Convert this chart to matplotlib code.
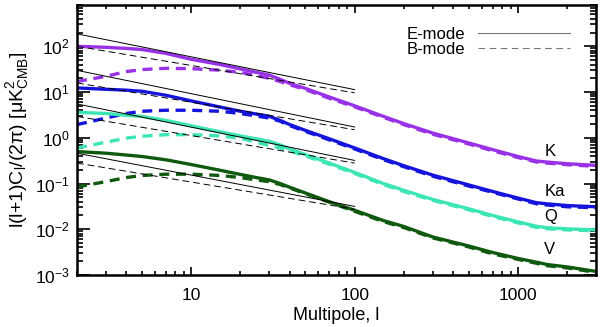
import matplotlib
matplotlib.use("Agg")
import matplotlib.pyplot as plt
from matplotlib.lines import Line2D

plt.rcParams['font.family'] = ['Liberation Sans', 'DejaVu Sans']
plt.rcParams['mathtext.fontset'] = 'custom'
plt.rcParams['mathtext.rm'] = 'Liberation Sans'
plt.rcParams['mathtext.it'] = 'Liberation Sans'
plt.rcParams['mathtext.bf'] = 'Liberation Sans:bold'

# Multipoles
ell = [2, 3, 4, 5, 7, 10, 15, 20, 25, 30, 35, 40, 50, 70, 100, 150, 200, 300, 500,
       700, 1000, 1300, 1500, 2000, 3000]

# E-mode spectra
K_E = [100, 95, 90, 85, 70, 52, 40, 32, 27, 23.5, 19, 15.5, 12, 7.8, 5.0, 2.94, 2.04,
       1.27, 0.77, 0.55, 0.39, 0.31, 0.295, 0.271, 0.249]
Ka_E = [12.3, 11.5, 11.0, 10.4, 8.5, 6.4, 4.7, 3.8, 3.3, 2.95, 2.4, 1.95, 1.45, 0.95,
        0.6, 0.35, 0.245, 0.153, 0.093, 0.067, 0.048, 0.038, 0.036, 0.033, 0.031]
Q_E = [3.6, 3.4, 3.1, 2.94, 2.4, 1.83, 1.35, 1.1, 0.95, 0.84, 0.7, 0.57, 0.43, 0.28,
       0.175, 0.1, 0.071, 0.045, 0.028, 0.02, 0.0145, 0.0116, 0.0108, 0.0102, 0.0097]
V_E = [0.50, 0.46, 0.42, 0.39, 0.33, 0.26, 0.195, 0.158, 0.135, 0.12, 0.1, 0.083,
       0.062, 0.04, 0.026, 0.0155, 0.0115, 0.0068, 0.0043, 0.0031, 0.0023, 0.0019,
       0.0017, 0.0015, 0.0012]

# B-mode spectra
K_B = [17, 22, 28, 31, 33, 32.5, 30, 27, 23, 20, 17, 14.5, 11.3, 7.3, 4.75, 2.8, 1.94,
       1.2, 0.73, 0.52, 0.37, 0.295, 0.28, 0.258, 0.237]
Ka_B = [1.94, 2.7, 3.4, 3.8, 4.0, 4.0, 3.8, 3.4, 3.0, 2.7, 2.3, 1.85, 1.38, 0.9, 0.57,
        0.333, 0.233, 0.145, 0.088, 0.064, 0.046, 0.036, 0.034, 0.031, 0.0295]
Q_B = [0.6, 0.8, 0.98, 1.08, 1.17, 1.17, 1.1, 0.98, 0.8, 0.68, 0.6, 0.52, 0.4, 0.265,
       0.166, 0.095, 0.067, 0.043, 0.0266, 0.019, 0.0138, 0.011, 0.0103, 0.0097, 0.0092]
V_B = [0.084, 0.11, 0.135, 0.15, 0.16, 0.16, 0.15, 0.135, 0.12, 0.11, 0.095, 0.08,
       0.06, 0.039, 0.0247, 0.0147, 0.0109, 0.0065, 0.0041, 0.0029, 0.0022, 0.0018,
       0.0016, 0.00143, 0.00114]

# Power-law fits (end points)
fit_ell = [2, 100]
K_Efit = [187, 11.3]
K_Bfit = [100, 9.6]
Ka_Efit = [29.8, 1.72]
Ka_Bfit = [15.8, 1.5]
Q_Efit = [5.5, 0.32]
Q_Bfit = [2.94, 0.28]
V_Efit = [0.46, 0.0316]
V_Bfit = [0.28, 0.0275]

bands = ['K', 'Ka', 'Q', 'V']
colors = ['#9932e6', '#1414dc', '#3ce6b4', '#0f5a0f']
E_all = [K_E, Ka_E, Q_E, V_E]
B_all = [K_B, Ka_B, Q_B, V_B]
Efits = [K_Efit, Ka_Efit, Q_Efit, V_Efit]
Bfits = [K_Bfit, Ka_Bfit, Q_Bfit, V_Bfit]
label_pos = [(1450, 0.5), (1450, 0.066), (1450, 0.0188), (1450, 0.0036)]

fig = plt.figure(figsize=(6.0, 3.27), dpi=100)
ax = fig.add_axes([77/600, 1-275/327, 519/600, 270/327])

for E, B, Ef, Bf, c in zip(E_all, B_all, Efits, Bfits, colors):
    ax.plot(fit_ell, Ef, color='black', lw=0.7, zorder=3)
    ax.plot(fit_ell, Bf, color='black', lw=0.7, ls=(0, (7, 4)), zorder=3)
    ax.plot(ell, E, color=c, lw=2.4, zorder=2)
    ax.plot(ell, B, color=c, lw=2.4, ls=(0, (3, 2)), zorder=2)

for name, (lx, ly) in zip(bands, label_pos):
    ax.text(lx, ly, name, fontsize=12, ha='left', va='center')

ax.set_xscale('log')
ax.set_yscale('log')
ax.set_xlim(2, 3000)
ax.set_ylim(1e-3, 8e2)
ax.set_xticks([10, 100, 1000])
ax.set_xticklabels(['10', '100', '1000'])
ax.set_yticks([1e-3, 1e-2, 1e-1, 1, 10, 100])
ax.set_yticklabels([r'10$^{-3}$', r'10$^{-2}$', r'10$^{-1}$', r'10$^{0}$',
                    r'10$^{1}$', r'10$^{2}$'])
ax.tick_params(which='both', direction='in', top=True, right=True, labelsize=12.5,
               width=1.2)
ax.tick_params(axis='y', which='major', length=9, pad=5)
ax.tick_params(axis='y', which='minor', length=4)
ax.tick_params(axis='x', which='major', length=6, pad=9)
ax.tick_params(axis='x', which='minor', length=3)
for s in ax.spines.values():
    s.set_linewidth(1.8)

ax.set_xlabel('Multipole, l', fontsize=13, labelpad=3)
ax.set_ylabel(r'l(l+1)C$_{\rm l}$/(2$\pi$) [$\mu$K$^2_{\rm CMB}$]', fontsize=14,
              labelpad=3)

handles = [Line2D([], [], color='#777777', lw=0.8),
           Line2D([], [], color='#777777', lw=0.8, ls=(0, (6, 4)))]
ax.legend(handles, ['E-mode', 'B-mode'], loc='upper right',
          bbox_to_anchor=(0.95, 0.918), frameon=False, markerfirst=False,
          handlelength=5.5, fontsize=12, borderpad=0, borderaxespad=0,
          labelspacing=0.0, handletextpad=0.8)

fig.savefig('out.png', dpi=100)
